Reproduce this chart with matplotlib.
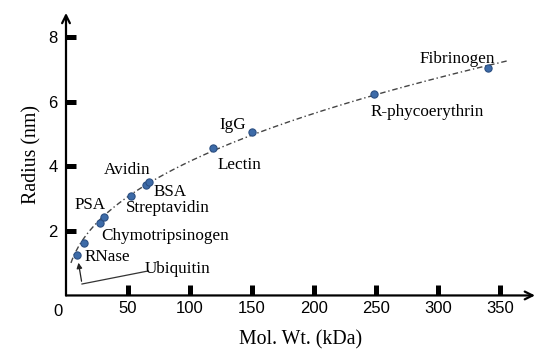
import numpy as np
import matplotlib
matplotlib.use("Agg")
import matplotlib.pyplot as plt

proteins = ["Ubiquitin", "RNase", "Chymotripsinogen", "PSA", "Streptavidin",
            "Avidin", "BSA", "Lectin", "IgG", "R-phycoerythrin", "Fibrinogen"]
mol_wt = [8.6, 14.8, 27.4, 30.9, 52.2, 64.5, 67.2, 118.8, 150.3, 248.4, 339.8]
radius = [1.25, 1.63, 2.23, 2.44, 3.09, 3.42, 3.52, 4.56, 5.07, 6.25, 7.03]
x_ticks = [50, 100, 150, 200, 250, 300, 350]
y_ticks = [2, 4, 6, 8]

fig = plt.figure(figsize=(5.5, 3.59), dpi=100)
ax = fig.add_axes([0.12, 0.177, 0.8527, 0.787])
ax.set_xlim(0, 378)
ax.set_ylim(0, 8.75)

# power-law fit of the data (weighted ~ linear-space least squares)
m = np.array(mol_wt); r = np.array(radius)
b, a = np.polyfit(np.log(m), np.log(r), 1, w=r ** 1.5)
xf = np.linspace(4, 356, 300)
ax.plot(xf, np.exp(a) * xf ** b, color="#444444", lw=1.0, ls=(0, (4, 2, 1, 2)), zorder=2)

ax.plot(mol_wt, radius, "o", ms=5.2, color="#3D6BA8", mec="#2B4F82", mew=0.8, zorder=3)

for s in ax.spines.values():
    s.set_visible(False)
ax.annotate("", xy=(1.0, 0), xytext=(0, 0), xycoords="axes fraction",
            arrowprops=dict(arrowstyle="->", lw=1.6, color="black", shrinkA=0, shrinkB=0,
                            mutation_scale=14))
ax.annotate("", xy=(0, 1.0), xytext=(0, 0), xycoords="axes fraction",
            arrowprops=dict(arrowstyle="->", lw=1.6, color="black", shrinkA=0, shrinkB=0,
                            mutation_scale=14))

ax.set_xticks(x_ticks)
ax.set_yticks(y_ticks)
ax.tick_params(direction="in", length=7.5, width=3.6, color="black", labelsize=12)
ax.tick_params(axis="x", pad=4)
ax.tick_params(axis="y", pad=6)
for lab in ax.get_xticklabels() + ax.get_yticklabels():
    lab.set_fontfamily("Liberation Sans")
ax.text(-6.5, -0.25, "0", ha="center", va="top", fontsize=12, family="Liberation Sans",
        clip_on=False)

serif = "Liberation Serif"
ax.set_xlabel("Mol. Wt. (kDa)", fontsize=14.3, family=serif, labelpad=10)
ax.set_ylabel("Radius (nm)", fontsize=14.3, family=serif, labelpad=5)

lab_pos = {
    "Fibrinogen": (457, 59), "R-phycoerythrin": (427, 112), "IgG": (233, 125),
    "Lectin": (240, 165), "Avidin": (127, 170), "BSA": (170, 192),
    "Streptavidin": (168, 208), "PSA": (90, 205), "Chymotripsinogen": (165, 236),
    "RNase": (107, 257), "Ubiquitin": (178, 269),
}
H = 359
for name, (px, py) in lab_pos.items():
    fig.text(px / 550, 1 - py / H, name, ha="center", va="center", fontsize=12.3, family=serif)

# Ubiquitin pointer
pts = [(148, 271), (82, 284)]
fig.add_artist(plt.Line2D([p[0] / 550 for p in pts], [1 - p[1] / H for p in pts],
                          transform=fig.transFigure, color="#333333", lw=0.9))
fig.add_artist(matplotlib.patches.FancyArrowPatch((82 / 550, 1 - 284 / H), (78 / 550, 1 - 260 / H),
                                                  transform=fig.transFigure, arrowstyle="-|>",
                                                  mutation_scale=8, color="#222222", lw=0.9))

fig.savefig("out.png", dpi=100)
